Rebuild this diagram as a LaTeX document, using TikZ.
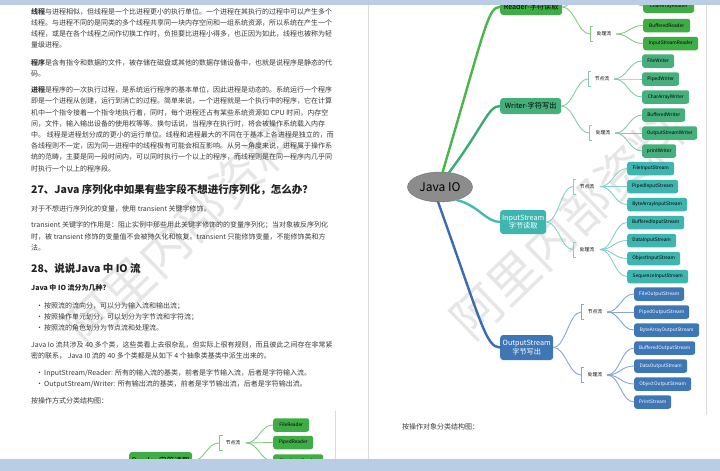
\documentclass[tikz,border=0pt]{standalone}
\usepackage{fontspec}
\setmainfont{Noto Sans CJK SC}
\usetikzlibrary{shapes.geometric}
\definecolor{barc}{HTML}{B9CDE5}
\definecolor{sepc}{HTML}{DADADA}
\definecolor{txtc}{HTML}{3A3A3A}
\definecolor{headc}{HTML}{222222}
\definecolor{wmc}{HTML}{DCDCDC}
\definecolor{cR}{HTML}{3FAD46}
\definecolor{lR}{HTML}{49B649}
\definecolor{tR}{HTML}{86C986}
\definecolor{cW}{HTML}{45B07C}
\definecolor{lW}{HTML}{3BAA78}
\definecolor{tW}{HTML}{85CBA8}
\definecolor{cI}{HTML}{3FB5B0}
\definecolor{lI}{HTML}{45BAB3}
\definecolor{tI}{HTML}{84D0CB}
\definecolor{cO}{HTML}{3E76B6}
\definecolor{lO}{HTML}{3A6DB0}
\definecolor{tO}{HTML}{86A7D2}
\definecolor{ellc}{HTML}{8C8C8C}
\begin{document}
\begin{tikzpicture}[x=1pt,y=-1pt,
  tx/.style={anchor=base west, inner sep=0, font=\fontsize{7}{8}\selectfont, text=txtc},
  hd/.style={anchor=base west, inner sep=0, font=\fontsize{10.5}{12}\selectfont\bfseries, text=headc},
  wm/.style={inner sep=0, font=\fontsize{50}{50}\selectfont, text=wmc, opacity=0.7},
  sepline/.style={draw=sepc, line width=0.7pt},
  kid/.style={anchor=west, rounded corners=2.5pt, inner sep=0, minimum height=13.5pt, minimum width=#1, font=\fontsize{4.8}{5}\selectfont},
  mainbox/.style={anchor=west, rounded corners=3pt, inner sep=0, minimum width=#1, align=center, font=\fontsize{7.2}{8.6}\selectfont},
  lab/.style={inner sep=0, font=\fontsize{4.8}{5}\selectfont, text=black},
  thick main/.style={line width=2.4pt, line cap=round},
  thin link/.style={line width=0.9pt}
]
\useasboundingbox (0,0) rectangle (720,471);
\clip (0,0) rectangle (720,471);
\fill[white] (0,0) rectangle (720,471);

% page separators
\draw[sepline] (368,0) -- (368,471);
\draw[sepline] (706,5) -- (706,415);
\draw[sepline] (335,411) -- (335,459);

% watermarks
\node[wm, rotate=44] (wmL) at (182,232) {阿里内部资料};
\node[wm, rotate=44] (wmR) at (567,225) {阿里内部资料};

% ---------- left page text ----------
\node[tx] (t1) at (31,14.7) {\textbf{线程}与进程相似，但线程是一个比进程更小的执行单位。一个进程在其执行的过程中可以产生多个};
\node[tx] (t2) at (31,25.7) {线程。与进程不同的是同类的多个线程共享同一块内存空间和一组系统资源，所以系统在产生一个};
\node[tx] (t3) at (31,36.7) {线程，或是在各个线程之间作切换工作时，负担要比进程小得多，也正因为如此，线程也被称为轻};
\node[tx] (t4) at (31,47.7) {量级进程。};
\node[tx] (t5) at (31,65.7) {\textbf{程序}是含有指令和数据的文件，被存储在磁盘或其他的数据存储设备中，也就是说程序是静态的代};
\node[tx] (t6) at (31,76.7) {码。};
\node[tx] (t7) at (31,92.7) {\textbf{进程}是程序的一次执行过程，是系统运行程序的基本单位，因此进程是动态的。系统运行一个程序};
\node[tx] (t8) at (31,103.9) {即是一个进程从创建，运行到消亡的过程。简单来说，一个进程就是一个执行中的程序，它在计算};
\node[tx] (t9) at (31,115.1) {机中一个指令接着一个指令地执行着，同时，每个进程还占有某些系统资源如 CPU 时间，内存空};
\node[tx] (t10) at (31,126.3) {间，文件，输入输出设备的使用权等等。换句话说，当程序在执行时，将会被操作系统载入内存};
\node[tx] (t11) at (31,137.5) {中。 线程是进程划分成的更小的运行单位。线程和进程最大的不同在于基本上各进程是独立的，而};
\node[tx] (t12) at (31,148.7) {各线程则不一定，因为同一进程中的线程极有可能会相互影响。从另一角度来说，进程属于操作系};
\node[tx] (t13) at (31,159.9) {统的范畴，主要是同一段时间内，可以同时执行一个以上的程序，而线程则是在同一程序内几乎同};
\node[tx] (t14) at (31,171.1) {时执行一个以上的程序段。};
\node[hd] (h27) at (31,193) {27、Java 序列化中如果有些字段不想进行序列化，怎么办？};
\node[tx] (t15) at (31,211.7) {对于不想进行序列化的变量，使用 transient 关键字修饰。};
\node[tx] (t16) at (31,227.7) {transient 关键字的作用是：阻止实例中那些用此关键字修饰的的变量序列化；当对象被反序列化};
\node[tx] (t17) at (31,239.2) {时，被 transient 修饰的变量值不会被持久化和恢复。transient 只能修饰变量，不能修饰类和方};
\node[tx] (t18) at (31,250.7) {法。};
\node[hd] (h28) at (31,272) {28、说说Java 中 IO 流};
\node[tx, text=headc] (q1) at (31,290.7) {\textbf{Java 中 IO 流分为几种?}};
\node[tx] (b1d) at (36,308.7) {•};
\node[tx] (b1) at (44,308.7) {按照流的流向分，可以分为输入流和输出流；};
\node[tx] (b2d) at (36,319.5) {•};
\node[tx] (b2) at (44,319.5) {按照操作单元划分，可以划分为字节流和字符流；};
\node[tx] (b3d) at (36,330) {•};
\node[tx] (b3) at (44,330) {按照流的角色划分为节点流和处理流。};
\node[tx] (t19) at (31,347.7) {Java Io 流共涉及 40 多个类，这些类看上去很杂乱，但实际上很有规则，而且彼此之间存在非常紧};
\node[tx] (t20) at (31,358.7) {密的联系， Java I0 流的 40 多个类都是从如下 4 个抽象类基类中派生出来的。};
\node[tx] (b4d) at (36,375.7) {•};
\node[tx] (b4) at (44,375.7) {InputStream/Reader: 所有的输入流的基类，前者是字节输入流，后者是字符输入流。};
\node[tx] (b5d) at (36,386) {•};
\node[tx] (b5) at (44,386) {OutputStream/Writer: 所有输出流的基类，前者是字节输出流，后者是字符输出流。};
\node[tx] (t21) at (31,403.7) {按操作方式分类结构图：};

% ---------- left bottom diagram ----------
\node[mainbox=63, minimum height=18pt, fill=cR, text=black, font=\fontsize{7.6}{9}\selectfont] (lrd) at (129,461) {Reader-字符读取};
\coordinate (lb) at (219,443);
\draw[tR, thin link] (219.5+3,435.5) -- (219.5,435.5) -- (219.5,450.5) -- (219.5+3,450.5);
\node[lab] (ljl) at (233,443) {节点流};
\coordinate (lf) at (246,443);
\node[kid=36, fill=cR] (lk1) at (273,425) {FileReader};
\node[kid=40, fill=cR] (lk2) at (273,442.5) {PipedReader};
\node[kid=50, fill=cR] (lk3) at (273,461) {CharArrayReader};
\draw[tR, thin link] (lrd.east) .. controls +(12,0) and +(-12,0) .. (lb);
\foreach \k in {lk1,lk2,lk3}
  \draw[tR, thin link] (lf) .. controls +(13,0) and +(-13,0) .. (\k.west);

% ---------- right mind map ----------
\node[ellipse, fill=ellc, draw=ellc!80!black, line width=0.4pt, minimum width=65pt, minimum height=30pt, inner sep=0, font=\fontsize{12}{14}\selectfont] (jio) at (440,187) {Java IO};

% main boxes
\node[mainbox=62, minimum height=16pt, fill=cR, text=black] (rd) at (500,7) {Reader-字符读取};
\node[mainbox=61, minimum height=16pt, fill=cW, text=black] (wr) at (500,106) {Writer-字符写出};
\node[mainbox=46, minimum height=24pt, fill=cI, text=white] (is) at (500,222) {InputStream\\字节读取};
\node[mainbox=53, minimum height=25pt, fill=cO, text=white] (os) at (500,347.5) {OutputStream\\字节写出};

% thick main lines
\draw[lR, thick main] (jio.80) .. controls (486,25) and (488,7) .. (rd.west);
\draw[lW, thick main] (jio.58) .. controls (484,126) and (488,106) .. (wr.west);
\draw[lI, thick main] (jio.-38) .. controls (478,205) and (486,222) .. (is.west);
\draw[lO, thick main] (jio.-97) .. controls (481,322) and (486,347.5) .. (os.west);

% Reader branch
\coordinate (rjb) at (590,-22);
\coordinate (rjf) at (616,-22);
\coordinate (rcb) at (590,34);
\draw[tR, thin link] (593,26.5) -- (590,26.5) -- (590,41.5) -- (593,41.5);
\node[lab] (rcl) at (604,34) {处理流};
\coordinate (rcf) at (616,34);
\node[kid=51, fill=cR] (rk1) at (643,6) {CharArrayReader};
\node[kid=47, fill=cR] (rk2) at (643,25.5) {BufferedReader};
\node[kid=55, fill=cR] (rk3) at (643,43.5) {InputStreamReader};
\draw[tR, thin link] (rd.east) .. controls +(12,0) and +(-12,0) .. (rjb);
\draw[tR, thin link] (rd.east) .. controls +(12,0) and +(-12,0) .. (rcb);
\draw[tR, thin link] (rjf) .. controls +(13,0) and +(-13,0) .. (rk1.west);
\draw[tR, thin link] (rcf) .. controls +(13,0) and +(-13,0) .. (rk2.west);
\draw[tR, thin link] (rcf) .. controls +(13,0) and +(-13,0) .. (rk3.west);

% Writer branch
\coordinate (wjb) at (588,79);
\draw[tW, thin link] (591,71.5) -- (588,71.5) -- (588,86.5) -- (591,86.5);
\node[lab] (wjl) at (602,79) {节点流};
\coordinate (wjf) at (614,79);
\coordinate (wcb) at (589,133);
\draw[tW, thin link] (592,125.5) -- (589,125.5) -- (589,140.5) -- (592,140.5);
\node[lab] (wcl) at (603,133) {处理流};
\coordinate (wcf) at (615,133);
\node[kid=32, fill=cW] (wk1) at (642,61) {FileWriter};
\node[kid=37, fill=cW] (wk2) at (642,79) {PipedWriter};
\node[kid=47, fill=cW] (wk3) at (642,97) {CharArrayWriter};
\node[kid=43, fill=cW] (wk4) at (642,115) {BufferedWriter};
\node[kid=55, fill=cW] (wk5) at (642,133) {OutputStreamWriter};
\node[kid=34, fill=cW] (wk6) at (642,151) {printWriter};
\draw[tW, thin link] (wr.east) .. controls +(12,0) and +(-12,0) .. (wjb);
\draw[tW, thin link] (wr.east) .. controls +(12,0) and +(-12,0) .. (wcb);
\foreach \k in {wk1,wk2,wk3}
  \draw[tW, thin link] (wjf) .. controls +(13,0) and +(-13,0) .. (\k.west);
\foreach \k in {wk4,wk5,wk6}
  \draw[tW, thin link] (wcf) .. controls +(13,0) and +(-13,0) .. (\k.west);

% InputStream branch
\coordinate (ijb) at (573,186.5);
\draw[tI, thin link] (576,179) -- (573,179) -- (573,194) -- (576,194);
\node[lab] (ijl) at (587,186.5) {节点流};
\coordinate (ijf) at (600,186.5);
\coordinate (icb) at (573,249.5);
\draw[tI, thin link] (576,242) -- (573,242) -- (573,257) -- (576,257);
\node[lab] (icl) at (587,249.5) {处理流};
\coordinate (icf) at (600,249.5);
\node[kid=47, fill=cI] (ik1) at (627,168.5) {FileInputStream};
\node[kid=51, fill=cI] (ik2) at (627,186.5) {PipedInputStream};
\node[kid=60, fill=cI] (ik3) at (627,204.5) {ByteArrayInputStream};
\node[kid=57, fill=cI] (ik4) at (627,222.5) {BufferedInputStream};
\node[kid=49, fill=cI] (ik5) at (627,240.5) {DataInputStream};
\node[kid=53, fill=cI] (ik6) at (627,258.5) {ObjectInputStream};
\node[kid=61, fill=cI] (ik7) at (627,276.5) {SequenceInputStream};
\draw[tI, thin link] (is.east) .. controls +(12,0) and +(-12,0) .. (ijb);
\draw[tI, thin link] (is.east) .. controls +(12,0) and +(-12,0) .. (icb);
\foreach \k in {ik1,ik2,ik3}
  \draw[tI, thin link] (ijf) .. controls +(13,0) and +(-13,0) .. (\k.west);
\foreach \k in {ik4,ik5,ik6,ik7}
  \draw[tI, thin link] (icf) .. controls +(13,0) and +(-13,0) .. (\k.west);

% OutputStream branch
\coordinate (ojb) at (581,312);
\draw[tO, thin link] (584,304.5) -- (581,304.5) -- (581,319.5) -- (584,319.5);
\node[lab] (ojl) at (595,312) {节点流};
\coordinate (ojf) at (607,312);
\coordinate (ocb) at (581,375);
\draw[tO, thin link] (584,367.5) -- (581,367.5) -- (581,382.5) -- (584,382.5);
\node[lab] (ocl) at (595,375) {处理流};
\coordinate (ocf) at (607,375);
\node[kid=50, fill=cO, text=white] (ok1) at (634,294) {FileOutputStream};
\node[kid=55, fill=cO, text=white] (ok2) at (634,312) {PipedOutputStream};
\node[kid=65, fill=cO, text=white] (ok3) at (634,330) {ByteArrayOutputStream};
\node[kid=61, fill=cO, text=white] (ok4) at (634,348) {BufferedOutputStream};
\node[kid=53, fill=cO, text=white] (ok5) at (634,366) {DataOutputStream};
\node[kid=57, fill=cO, text=white] (ok6) at (634,384) {ObjectOutputStream};
\node[kid=37, fill=cO, text=white] (ok7) at (634,402) {PrintStream};
\draw[tO, thin link] (os.east) .. controls +(12,0) and +(-12,0) .. (ojb);
\draw[tO, thin link] (os.east) .. controls +(12,0) and +(-12,0) .. (ocb);
\foreach \k in {ok1,ok2,ok3}
  \draw[tO, thin link] (ojf) .. controls +(13,0) and +(-13,0) .. (\k.west);
\foreach \k in {ok4,ok5,ok6,ok7}
  \draw[tO, thin link] (ocf) .. controls +(13,0) and +(-13,0) .. (\k.west);

\node[tx] (t22) at (402,429.7) {按操作对象分类结构图：};

% viewer bars
\fill[barc] (0,0) rectangle (720,5);
\fill[barc] (0,459) rectangle (720,471);
\end{tikzpicture}
\end{document}
